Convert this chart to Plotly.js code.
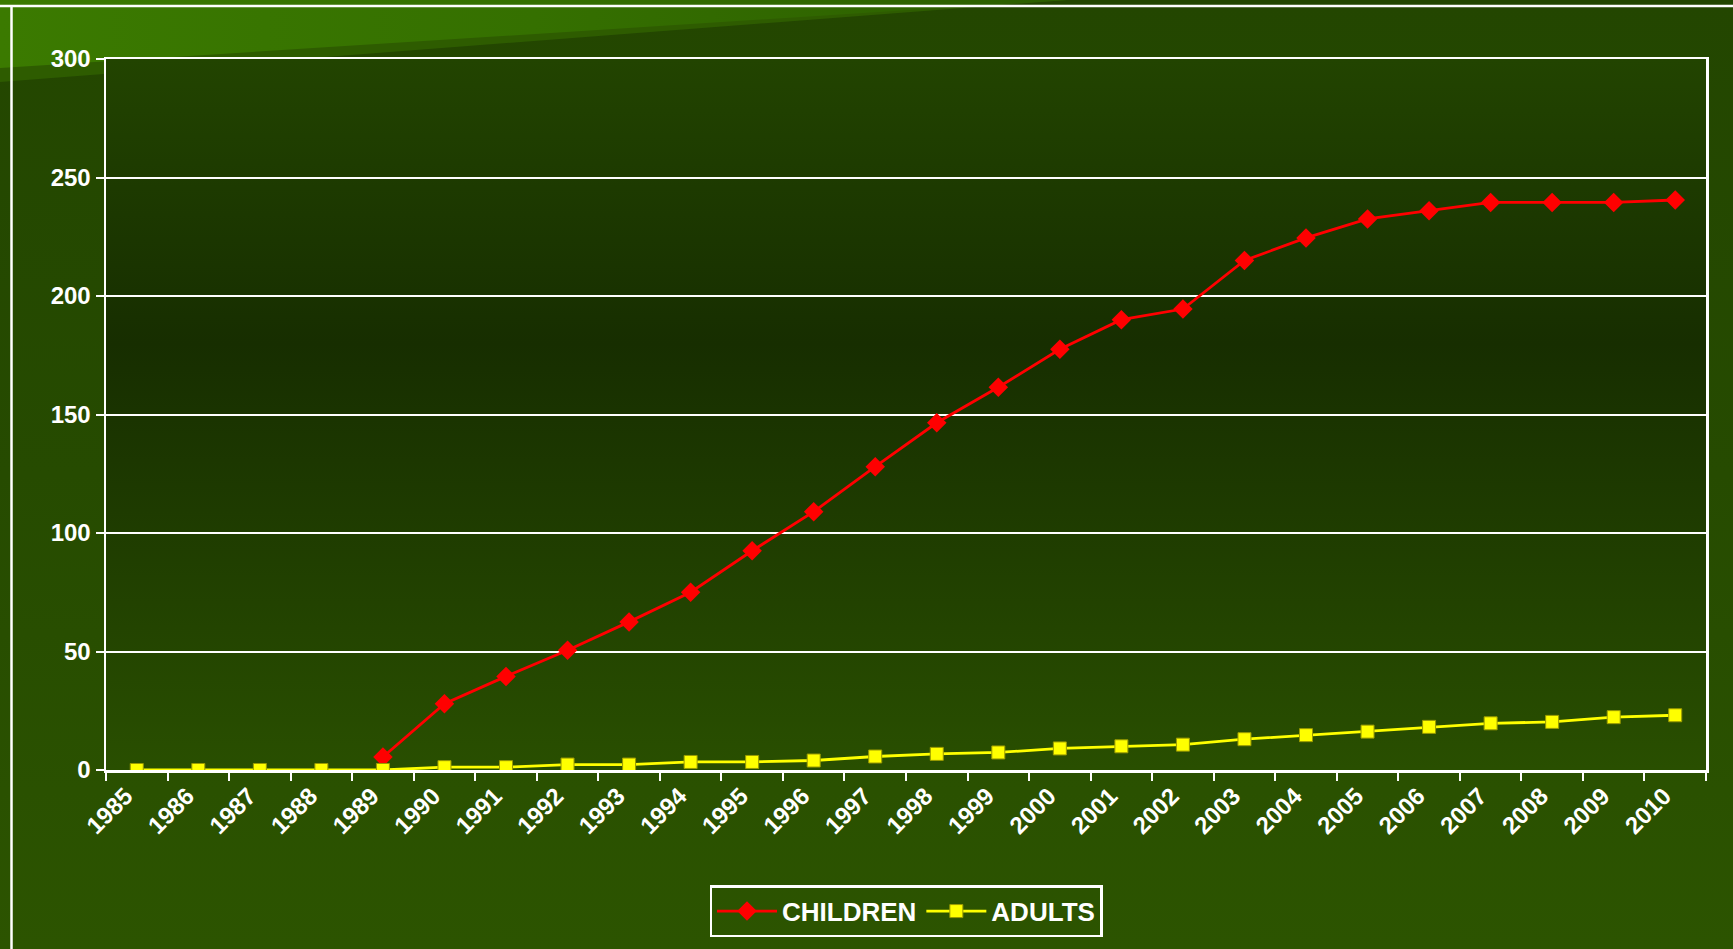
<!DOCTYPE html>
<html>
<head>
<meta charset="utf-8">
<script src="https://cdn.plot.ly/plotly-3.0.1.min.js"></script>
<style>
  html, body { margin: 0; padding: 0; background: #244700; }
  #chart { width: 1733px; height: 949px; }
</style>
</head>
<body>
<div id="chart"></div>
<script>
// ---- data ----
const years = ["1985","1986","1987","1988","1989","1990","1991","1992","1993","1994","1995","1996","1997","1998","1999","2000","2001","2002","2003","2004","2005","2006","2007","2008","2009","2010"];
const children = [null,null,null,null,5.5,28,39.5,50.5,62.5,75,92.5,109,128,146.5,161.5,177.5,190,194.5,215,224.5,232.5,236,239.5,239.5,239.5,240.5];
const adults = [0,0,0,0,0,1.2,1.2,2.3,2.3,3.4,3.4,4,5.7,6.8,7.4,9.1,10,10.7,13,14.7,16.2,18.2,19.7,20.3,22.3,23.1];
const yTicks = [0,50,100,150,200,250,300];

// ---- page geometry / styling ----
const W = 1733, H = 949;
const M = {l: 106, r: 27, t: 59, b: 179};
const PW = W - M.l - M.r, PH = H - M.t - M.b;
const FONT = '"Liberation Sans", Arial, sans-serif';

const bgSvg = `<svg xmlns="http://www.w3.org/2000/svg" width="${W}" height="${H}" viewBox="0 0 ${W} ${H}" preserveAspectRatio="none">
<defs>
<linearGradient id="pg" x1="0" y1="0" x2="0" y2="1">
<stop offset="0" stop-color="#234600"/><stop offset="0.5" stop-color="#264b00"/><stop offset="1" stop-color="#2c5400"/>
</linearGradient>
<linearGradient id="hl" x1="0" y1="0" x2="1" y2="0">
<stop offset="0" stop-color="#3b7a00"/><stop offset="0.5" stop-color="#357000"/><stop offset="1" stop-color="#2c5e00"/>
</linearGradient>
</defs>
<rect x="0" y="0" width="${W}" height="${H}" fill="url(#pg)"/>
<polygon points="0,0 1067,0 0,82" fill="#2e5c00"/>
<polygon points="0,0 1067,0 0,68" fill="url(#hl)"/>
<line x1="0" y1="6" x2="${W}" y2="6" stroke="#ffffff" stroke-width="2.5"/>
<line x1="11.5" y1="6" x2="11.5" y2="${H}" stroke="#ffffff" stroke-width="2.5"/>
</svg>`;

const plotSvg = `<svg xmlns="http://www.w3.org/2000/svg" width="100" height="100" viewBox="0 0 100 100" preserveAspectRatio="none">
<defs><linearGradient id="g" x1="0" y1="0" x2="0" y2="1">
<stop offset="0" stop-color="#224400"/><stop offset="0.4" stop-color="#172e00"/><stop offset="1" stop-color="#294f00"/>
</linearGradient></defs>
<rect x="0" y="0" width="100" height="100" fill="url(#g)"/>
</svg>`;

const uri = s => 'data:image/svg+xml;charset=utf-8,' + encodeURIComponent(s);

const traces = [
  {
    x: years, y: children, name: 'CHILDREN', type: 'scatter', mode: 'lines+markers',
    line: {color: '#ff0000', width: 2.8},
    marker: {symbol: 'diamond', size: 15, color: '#ff0000'},
    connectgaps: false
  },
  {
    x: years, y: adults, name: 'ADULTS', type: 'scatter', mode: 'lines+markers',
    line: {color: '#ffff00', width: 2.8},
    marker: {symbol: 'square', size: 13, color: '#ffff00', line: {color: '#9a9a00', width: 1}}
  }
];

const layout = {
  width: W, height: H,
  margin: M,
  paper_bgcolor: 'rgba(0,0,0,0)',
  plot_bgcolor: 'rgba(0,0,0,0)',
  font: {family: FONT, color: '#ffffff', size: 24, weight: 'bold'},
  showlegend: true,
  xaxis: {
    type: 'category',
    range: [-0.5, years.length - 0.5],
    tickangle: -45,
    tickson: 'boundaries',
    ticks: 'outside', ticklen: 8, tickwidth: 2, tickcolor: '#ffffff',
    ticklabelshift: -11,
    showline: true, linecolor: '#ffffff', linewidth: 2.5, mirror: true,
    showgrid: false, zeroline: false,
    tickfont: {family: FONT, size: 24, color: '#ffffff', weight: 'bold'},
    fixedrange: true
  },
  yaxis: {
    range: [0, 300],
    tickvals: yTicks,
    ticktext: yTicks.map(String),
    ticks: 'outside', ticklen: 8, tickwidth: 2, tickcolor: '#ffffff',
    showline: true, linecolor: '#ffffff', linewidth: 2.5, mirror: true,
    showgrid: true, gridcolor: '#ffffff', gridwidth: 2,
    zeroline: false,
    tickfont: {family: FONT, size: 24, color: '#ffffff', weight: 'bold'},
    fixedrange: true
  },
  legend: {
    orientation: 'h',
    x: 0.5, xanchor: 'center',
    y: -0.162, yanchor: 'top',
    bgcolor: 'rgba(0,0,0,0)',
    bordercolor: '#ffffff', borderwidth: 2.5,
    itemwidth: 60,
    font: {family: FONT, size: 26, color: '#ffffff', weight: 'bold'},
    itemclick: false, itemdoubleclick: false
  },
  images: [
    {
      source: uri(bgSvg), xref: 'paper', yref: 'paper',
      x: -M.l / PW, y: 1 + M.t / PH, sizex: W / PW, sizey: H / PH,
      xanchor: 'left', yanchor: 'top', sizing: 'stretch', layer: 'below'
    },
    {
      source: uri(plotSvg), xref: 'x domain', yref: 'y domain',
      x: 0, y: 1, sizex: 1, sizey: 1,
      xanchor: 'left', yanchor: 'top', sizing: 'stretch', layer: 'below'
    }
  ]
};

Plotly.newPlot('chart', traces, layout, {displayModeBar: false, staticPlot: true});
</script>
</body>
</html>
